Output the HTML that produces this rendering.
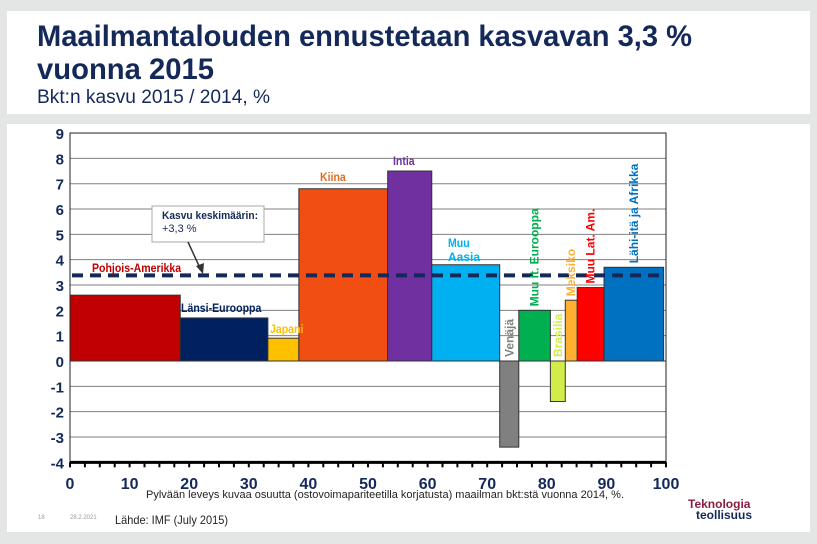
<!DOCTYPE html>
<html><head><meta charset="utf-8"><style>
body{margin:0;background:#e3e6e5;}
svg{display:block;font-family:"Liberation Sans",sans-serif;}
</style></head><body>
<svg width="817" height="544" viewBox="0 0 817 544">
<rect x="0" y="0" width="817" height="544" fill="#e3e6e5"/>
<rect x="7" y="11" width="803" height="103" fill="#fff"/>
<text x="37" y="46" font-size="30" font-weight="bold" fill="#14295a" textLength="655" lengthAdjust="spacingAndGlyphs">Maailmantalouden ennustetaan kasvavan 3,3 %</text>
<text x="37" y="79" font-size="30" font-weight="bold" fill="#14295a" textLength="177" lengthAdjust="spacingAndGlyphs">vuonna 2015</text>
<text x="37" y="103" font-size="19" fill="#14295a" textLength="233" lengthAdjust="spacingAndGlyphs">Bkt:n kasvu 2015 / 2014, %</text>
<rect x="7" y="124" width="803" height="408" fill="#fff"/>
<g id="chart"></g>
<text x="385" y="498" font-size="11" fill="#222" text-anchor="middle" textLength="478" lengthAdjust="spacingAndGlyphs">Pylvään leveys kuvaa osuutta (ostovoimapariteetilla korjatusta) maailman bkt:stä vuonna 2014, %.</text>
<text x="38" y="519" font-size="6" fill="#999">18</text>
<text x="70" y="519" font-size="6" fill="#999">28.2.2021</text>
<text x="115" y="524" font-size="12" fill="#222" textLength="113" lengthAdjust="spacingAndGlyphs">Lähde: IMF (July 2015)</text>
<text x="688" y="508" font-size="12" font-weight="bold" fill="#8b1e3f">Teknologia</text>
<text x="696" y="519" font-size="12" font-weight="bold" fill="#14295a">teollisuus</text>
</svg>
<script>
const categories=["Pohjois-Amerikka","Länsi-Eurooppa","Japani","Kiina","Intia","Muu Aasia","Venäjä","Muu It. Eurooppa","Brasilia","Meksiko","Muu Lat. Am.","Lähi-itä ja Afrikka"];
const shares=[18.5,14.7,5.2,14.9,7.4,11.4,3.2,5.3,2.5,2.0,4.5,10.0];
const growth=[2.6,1.7,0.9,6.8,7.5,3.8,-3.4,2.0,-1.6,2.4,2.9,3.7];
const colors=["#c00000","#002060","#ffc000","#f04e12","#7030a0","#00b0f0","#808080","#00b050","#d4ec4a","#ffb030","#ff0000","#0070c0"];
const labelColors=["#c00000","#002060","#ffc000","#e07020","#7030a0","#00b0f0","#808080","#00b050","#d4ec4a","#ffb030","#ff0000","#0070c0"];
const average=3.3;
const yTicks=[9,8,7,6,5,4,3,2,1,0,-1,-2,-3,-4];
const xTicks=[0,10,20,30,40,50,60,70,80,90,100];
const NS="http://www.w3.org/2000/svg";
const g=document.getElementById('chart');
const X0=70,X1=666,Y0=361,PX=25.33;
const xs=v=>X0+v*(X1-X0)/100;
const ys=v=>Y0-v*PX;
function mk(t,a){const e=document.createElementNS(NS,t);for(const k in a)e.setAttribute(k,a[k]);g.appendChild(e);return e;}
yTicks.forEach(t=>{
 if(t>-4&&t!==0){const l=mk('line',{x1:X0,x2:X1,y1:ys(t),y2:ys(t),stroke:'#808080','stroke-width':1});
 
 }
 const tx=mk('text',{x:X0-6,y:ys(t)+6,'font-size':15,'font-weight':'bold','text-anchor':'end',fill:'#14295a'});tx.textContent=t;
 
 
});
let cum=0;const geo=[];
categories.forEach((c,i)=>{
 const v=growth[i];const x=xs(cum),w=xs(cum+shares[i])-x;cum+=shares[i];geo.push([x,w]);
 const r=mk('rect',{x:x,y:Math.min(ys(v),Y0),width:w,height:Math.abs(ys(v)-Y0),fill:colors[i],stroke:'#333','stroke-width':1});
 
 
});
const fr=mk('rect',{x:X0,y:ys(9),width:X1-X0,height:ys(-4)-ys(9),fill:'none',stroke:'#222','stroke-width':1});


const zl=mk('line',{x1:X0,x2:X1,y1:Y0,y2:Y0,stroke:'#333','stroke-width':1});


const av=mk('line',{x1:X0+2,x2:X1-2,y1:ys(average)-2,y2:ys(average)-2,stroke:'#14295a','stroke-width':4,'stroke-dasharray':'11 7'});


categories.forEach((c,i)=>{
 const v=growth[i];const [x,w]=geo[i];
 let t;
 const cx=x+w/2;
 if(i<=5){
  const pos=[[92,272],[181,312],[270,333],[320,181],[393,165],[448,247]][i];
  t=mk('text',{x:pos[0],y:pos[1],'font-size':12,'font-weight':'bold',fill:labelColors[i],transform:`translate(${pos[0]} 0) scale(0.88 1) translate(${-pos[0]} 0)`});
  if(i==5){t.textContent='Muu';const t2=mk('text',{x:pos[0],y:pos[1]+14,'font-size':12,'font-weight':'bold',fill:labelColors[i]});t2.textContent='Aasia';
   
   }
  else t.textContent=c;
 }else{
  const base=v<0?Y0-4:ys(v)-4;
  t=mk('text',{x:cx+4,y:base,'font-size':12,'font-weight':'bold',fill:labelColors[i],transform:`rotate(-90 ${cx+4} ${base})`});
  t.textContent=c;
 }
 
 
});
const xa=mk('line',{x1:X0,x2:X1,y1:ys(-4),y2:ys(-4),stroke:'#000','stroke-width':3});


for(let v=0;v<=100;v+=2.5){const tk=mk('line',{x1:xs(v),x2:xs(v),y1:ys(-4),y2:ys(-4)+5,stroke:'#000','stroke-width':2});
 
 }
xTicks.forEach(v=>{const t=mk('text',{x:xs(v),y:489,'font-size':16,'font-weight':'bold','text-anchor':'middle',fill:'#14295a'});t.textContent=v;
 
 });
const bx=mk('rect',{x:152,y:206,width:112,height:36,fill:'#fff',stroke:'#aaa','stroke-width':1});


const b1=mk('text',{x:162,y:219,'font-size':11,'font-weight':'bold',fill:'#14295a',textLength:96,lengthAdjust:'spacingAndGlyphs'});b1.textContent='Kasvu keskimäärin:';


const b2=mk('text',{x:162,y:232,'font-size':11,fill:'#14295a'});b2.textContent='+3,3 %';


const ar=mk('line',{x1:188,y1:242,x2:200,y2:268,stroke:'#333','stroke-width':1.5});


const ah=mk('polygon',{points:'196,266 203,274 204,263',fill:'#333'});


</script>
</body></html>
